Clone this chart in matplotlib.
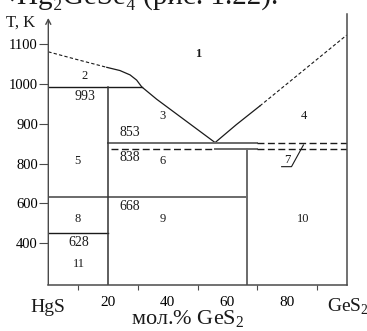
import numpy as np
import matplotlib
matplotlib.use("Agg")
import matplotlib.pyplot as plt
from matplotlib.transforms import blended_transform_factory

plt.rcParams["font.family"] = ["Liberation Serif", "DejaVu Serif"]
plt.rcParams["mathtext.fontset"] = "custom"
plt.rcParams["mathtext.rm"] = "Liberation Serif"

# composition axis, mol.% GeS2
X_LABEL_TICKS = [20, 40, 60, 80]
X_MINOR_TICKS = [10, 30, 50, 70, 90]
Y_TICKS = [400, 600, 800, 900, 1000, 1100]

# liquidus, HgS side
LIQ_L_DASH_X = [0, 8.4, 19.6]
LIQ_L_DASH_T = [1081, 1064, 1042]
LIQ_L_X = [19.6, 24.0, 27.4, 29.6, 31.3, 36.3, 55.9]
LIQ_L_T = [1042, 1034, 1023, 1010, 993, 962, 853]
# liquidus, GeS2 side
LIQ_R_X = [55.9, 63.0, 70.9]
LIQ_R_T = [853, 898, 945]
LIQ_R_DASH_X = [70.9, 100]
LIQ_R_DASH_T = [945, 1123]

# invariant horizontals (x0, x1, level)
H_BLACK = [(0, 31.3, 993), (0, 20, 451)]
H_GREY = [(20, 70, 853), (55.9, 70, 838), (0, 66.7, 631)]
H_DASHED = [(70, 100, 853), (21, 55.9, 838), (70, 100, 838)]
# verticals (x, top level)
V_BLACK = [(20, 993)]
V_GREY = [(66.7, 838)]

# field numbers
FIELD_TEXT = ["1", "2", "3", "4", "5", "6", "8", "9", "10", "11"]
FIELD_X = [50.3, 12.1, 38.2, 85.5, 9.9, 38.2, 9.9, 38.2, 85.5, 10.1]
FIELD_T = [1075, 1020, 920, 920, 807, 807, 522, 522, 522, 296]

# invariant temperatures
TEMP_TEXT = ["993", "853", "838", "668", "628"]
TEMP_X = [12.3, 27.4, 27.4, 27.4, 10.1]
TEMP_T = [968, 879, 815, 587, 403]

# field 7 with its leader
LEAD7_X = [78.2, 81.5, 85.5]
LEAD7_T = [785, 785, 847]


def fwd(t):
    t = np.asarray(t, dtype=float)
    return np.where(t >= 800, (t - 800) / 100.0, (t - 800) / 200.0)


def inv(p):
    p = np.asarray(p, dtype=float)
    return np.where(p >= 0, 800 + 100.0 * p, 800 + 200.0 * p)


W, H = 367, 331
fig = plt.figure(figsize=(W / 100, H / 100), dpi=100)
ax = fig.add_axes([48.3 / W, 1 - 284.7 / H, 298.4 / W, 270.7 / H])
ax.set_yscale("function", functions=(fwd, inv))
ax.set_xlim(0, 100)
ax.set_ylim(192, 1176)

ink = "#1a1a1a"
grey = "#6a6a6a"

for s in ("top", "left"):
    ax.spines[s].set_visible(False)
for s in ("bottom", "right"):
    ax.spines[s].set_color("#4a4a4a")
    ax.spines[s].set_linewidth(1.1)

# temperature axis with arrow
ax.annotate("", xy=(0, 1166), xytext=(0, 192),
            arrowprops=dict(arrowstyle="->,head_length=0.35,head_width=0.18",
                            color="#4a4a4a", lw=1.0, shrinkA=0, shrinkB=0),
            annotation_clip=False)

ax.set_yticks(Y_TICKS)
ax.set_yticklabels([str(v) for v in Y_TICKS])
ax.tick_params(axis="y", direction="out", length=6.5, width=0.8, pad=1,
               labelsize=10.5, color="#4a4a4a")
ax.set_xticks(X_LABEL_TICKS)
ax.set_xticklabels([str(v) for v in X_LABEL_TICKS])
ax.set_xticks(X_MINOR_TICKS, minor=True)
ax.tick_params(axis="x", which="major", length=0, pad=8, labelsize=11)
ax.tick_params(axis="x", which="minor", direction="out", length=3.8,
               width=0.8, color="#4a4a4a")

# liquidus
ax.plot(LIQ_L_DASH_X, LIQ_L_DASH_T, color=ink, lw=0.8, dashes=(3, 2))
ax.plot(LIQ_L_X, LIQ_L_T, color=ink, lw=0.9)
ax.plot(LIQ_R_X, LIQ_R_T, color=ink, lw=0.9)
ax.plot(LIQ_R_DASH_X, LIQ_R_DASH_T, color=ink, lw=0.8, dashes=(3, 2))

for x0, x1, t in H_BLACK:
    ax.plot([x0, x1], [t, t], color=ink, lw=1.0)
for x0, x1, t in H_GREY:
    ax.plot([x0, x1], [t, t], color=grey, lw=1.4)
for x0, x1, t in H_DASHED:
    ax.plot([x0, x1], [t, t], color=ink, lw=1.0, dashes=(5, 2.5))
for x, t in V_BLACK:
    ax.plot([x, x], [192, t], color="#333333", lw=1.1)
for x, t in V_GREY:
    ax.plot([x, x], [192, t], color=grey, lw=1.4)

for txt, x, t in zip(FIELD_TEXT, FIELD_X, FIELD_T):
    ax.text(x, t, txt, ha="center", va="center", fontsize=9,
            fontweight="bold" if txt == "1" else "normal", color=ink)
for txt, x, t in zip(TEMP_TEXT, TEMP_X, TEMP_T):
    ax.text(x, t, txt, ha="center", va="center", fontsize=10, color=ink)

ax.plot(LEAD7_X, LEAD7_T, color=ink, lw=0.8)
ax.text(80.1, 809, "7", ha="center", va="center", fontsize=9, color=ink)

# component names at the ends of the composition axis
tr = blended_transform_factory(ax.transData, fig.transFigure)
ax.text(0, 1 - 311.7 / H, "HgS", transform=tr, ha="center",
        va="baseline", fontsize=14, color=ink)
ax.text(93.5, 1 - 311.7 / H, r"GeS$_\mathregular{2}$", transform=tr,
        ha="left", va="baseline", fontsize=14, color=ink)
fig.text(188 / W, 1 - 324.5 / H, r"мол.% GeS$_\mathregular{2}$",
         ha="center", va="baseline", fontsize=16, color=ink)
fig.text(6 / W, 1 - 26.5 / H, "T, K", ha="left", va="baseline",
         fontsize=12, color=ink)

# tail of the caption line above the figure
fig.text(-1 / W, 1 - 4 / H, "⇒", family="DejaVu Sans",
         ha="left", va="baseline", fontsize=16, color=ink)
fig.text(17 / W, 1 - 4 / H, "Hg₂GeSe₄ (рис. 1.22).",
         ha="left", va="baseline", fontsize=21, color=ink)

fig.savefig("out.png", dpi=100)
